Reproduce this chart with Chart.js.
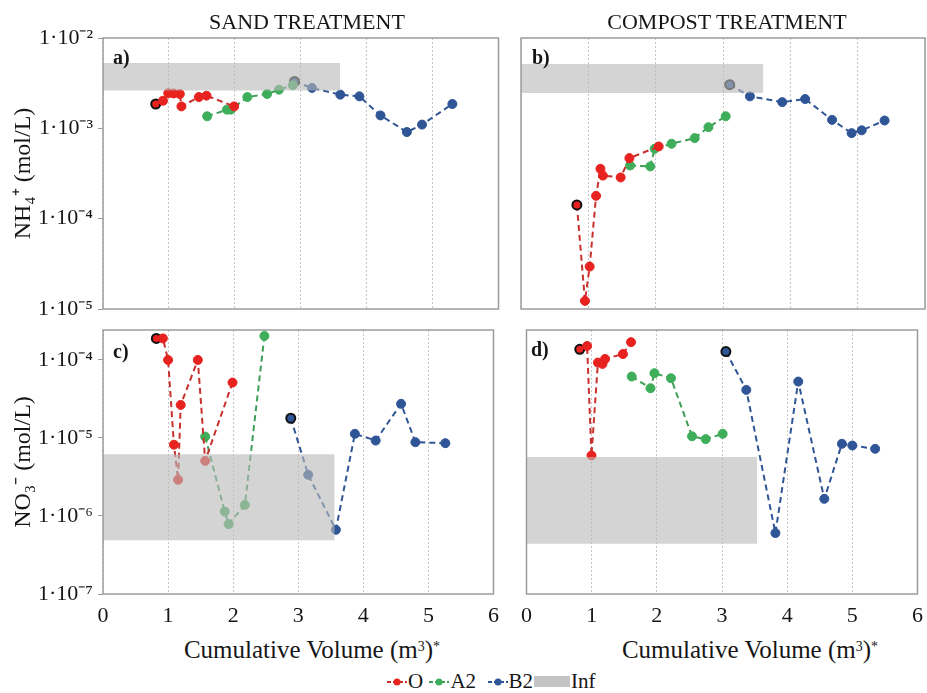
<!DOCTYPE html>
<html>
<head>
<meta charset="utf-8">
<script src="https://cdn.jsdelivr.net/npm/chart.js@4.4.0/dist/chart.umd.min.js"></script>
<style>
body{margin:0;background:#fff;width:927px;height:693px;position:relative;overflow:hidden;font-family:"Liberation Serif","Times New Roman",serif;color:#161616}
canvas{position:absolute}
.t{position:absolute;line-height:1;white-space:nowrap}
.c{text-align:center;width:400px}
.p{font-weight:bold;font-size:20px}
sup{font-size:14px;vertical-align:0.5em;line-height:0}
.leg{position:absolute;left:386px;top:671px;font-size:21px;line-height:1;display:flex;align-items:center;white-space:nowrap}
.leg svg{margin:0 1px}
</style>
</head>
<body>
<canvas id="ga" width="505" height="330" style="left:0;top:0"></canvas>
<canvas id="gb" width="420" height="330" style="left:512px;top:0"></canvas>
<canvas id="gc" width="508" height="324" style="left:0;top:310px"></canvas>
<canvas id="gd" width="420" height="324" style="left:512px;top:310px"></canvas>

<div class="t c" style="left:107px;top:11px;font-size:22px">SAND TREATMENT</div>
<div class="t c" style="left:527px;top:11px;font-size:22px">COMPOST TREATMENT</div>
<div class="t p" style="left:113px;top:47px">a)</div>
<div class="t p" style="left:532px;top:47px">b)</div>
<div class="t p" style="left:113px;top:341px">c)</div>
<div class="t p" style="left:531px;top:339px">d)</div>
<div class="t c" style="left:112px;top:637px;font-size:25px">Cumulative Volume (m<sup>3</sup>)<sup>*</sup></div>
<div class="t c" style="left:550px;top:637px;font-size:25px">Cumulative Volume (m<sup>3</sup>)<sup>*</sup></div>

<div class="leg">
  <svg width="20" height="10"><line x1="0" y1="5" x2="20" y2="5" stroke="#c8302c" stroke-width="2" stroke-dasharray="4 2"/><circle cx="10" cy="5" r="3.5" fill="#e8231f"/></svg><span>O</span>&nbsp;
  <svg width="20" height="10"><line x1="0" y1="5" x2="20" y2="5" stroke="#3e9e58" stroke-width="2" stroke-dasharray="4 2"/><circle cx="10" cy="5" r="3.5" fill="#3fae5a"/></svg><span>A2</span>&nbsp;&nbsp;
  <svg width="20" height="10"><line x1="0" y1="5" x2="20" y2="5" stroke="#2f5597" stroke-width="2" stroke-dasharray="4 2"/><circle cx="10" cy="5" r="3.5" fill="#2f5597"/></svg><span>B2</span>
  <svg width="36" height="11"><rect x="0" y="0" width="36" height="11" fill="#c4c4c4"/></svg><span>Inf</span>
</div>

<script>
// a) sand, NH4+
let aOx  = [0.80, 0.91, 0.99, 1.07, 1.165, 1.19, 1.455, 1.57, 1.99];
let aOy  = [1.86e-3, 2.02e-3, 2.45e-3, 2.43e-3, 2.4e-3, 1.75e-3, 2.22e-3, 2.3e-3, 1.75e-3];
let aA2x = [1.58, 1.88, 1.94, 2.19, 2.49, 2.67, 2.88];
let aA2y = [1.36e-3, 1.61e-3, 1.61e-3, 2.22e-3, 2.4e-3, 2.68e-3, 3.0e-3];
let aB2x = [2.906, 3.17, 3.60, 3.89, 4.21, 4.61, 4.84, 5.30];
let aB2y = [3.3e-3, 2.8e-3, 2.36e-3, 2.26e-3, 1.39e-3, 9.1e-4, 1.1e-3, 1.86e-3];

// b) compost, NH4+
let bOx  = [0.83, 0.95, 1.02, 1.115, 1.18, 1.216, 1.48, 1.61, 2.045];
let bOy  = [1.42e-4, 1.23e-5, 2.95e-5, 1.79e-4, 3.56e-4, 3.0e-4, 2.86e-4, 4.68e-4, 6.3e-4];
let bA2x = [1.62, 1.92, 1.985, 2.236, 2.58, 2.784, 3.04];
let bA2y = [3.88e-4, 3.79e-4, 5.94e-4, 6.75e-4, 7.8e-4, 1.03e-3, 1.36e-3];
let bB2x = [3.10, 3.40, 3.88, 4.22, 4.62, 4.91, 5.06, 5.40];
let bB2y = [3.04e-3, 2.26e-3, 1.95e-3, 2.11e-3, 1.24e-3, 8.85e-4, 9.5e-4, 1.22e-3];

// c) sand, NO3-
let cOx  = [0.82, 0.92, 1.0, 1.09, 1.154, 1.194, 1.457, 1.57, 1.99];
let cOy  = [1.89e-4, 1.89e-4, 1.0e-4, 8.2e-6, 2.91e-6, 2.65e-5, 1.0e-4, 5.09e-6, 5.13e-5];
let cA2x = [1.57, 1.87, 1.93, 2.18, 2.48];
let cA2y = [1.04e-5, 1.14e-6, 7.87e-7, 1.39e-6, 2.03e-4];
let cB2x = [2.885, 3.153, 3.578, 3.87, 4.19, 4.58, 4.80, 5.26];
let cB2y = [1.79e-5, 3.37e-6, 6.65e-7, 1.13e-5, 9.27e-6, 2.74e-5, 8.83e-6, 8.57e-6];

// d) compost, NO3-
let dOx  = [0.817, 0.93, 0.997, 1.096, 1.166, 1.206, 1.48, 1.604];
let dOy  = [1.37e-4, 1.51e-4, 5.96e-6, 9.25e-5, 8.9e-5, 1.03e-4, 1.19e-4, 1.69e-4];
let dA2x = [1.614, 1.903, 1.963, 2.217, 2.54, 2.75, 3.01];
let dA2y = [6.13e-5, 4.34e-5, 6.76e-5, 5.83e-5, 1.05e-5, 9.67e-6, 1.13e-5];
let dB2x = [3.06, 3.373, 3.82, 4.17, 4.57, 4.84, 5.0, 5.35];
let dB2y = [1.28e-4, 4.13e-5, 6.04e-7, 5.28e-5, 1.66e-6, 8.42e-6, 8.0e-6, 7.26e-6];

// Inf band (a, b, c, d)
let infEnd    = [3.6, 3.6, 3.56, 3.54];
let infTop    = [5.3e-3, 5.15e-3, 6.2e-6, 5.7e-6];
let infBottom = [2.62e-3, 2.46e-3, 4.9e-7, 4.4e-7];

// axes
let nhTicks = [1e-2, 1e-3, 1e-4, 1e-5];
let noTicks = [1e-4, 1e-5, 1e-6, 1e-7];
let nhRange = [1e-5, 1e-2];
let noRange = [1e-7, 2.42e-4];

const FONT = '"Liberation Serif", "Times New Roman", serif';
const INK = '#161616';
const SUP = {'-':'⁻','0':'⁰','1':'¹','2':'²','3':'³','4':'⁴','5':'⁵','6':'⁶','7':'⁷','8':'⁸','9':'⁹'};

function powLabel(v){
    var e = Math.round(Math.log10(v));
    return '1·10' + String(e).split('').map(function(c){ return SUP[c]; }).join('');
}

// ring: premier point entouré de noir (O et B2 seulement)
function serie(label, xs, ys, pt, ln, ring){
    return {
        label: label,
        data: xs.map(function(x, i){ return {x: x, y: ys[i]}; }),
        borderColor: ln,
        borderWidth: 2,
        borderDash: [6, 4],
        backgroundColor: pt,
        pointRadius: 4.5,
        pointBackgroundColor: pt,
        pointBorderColor: function(c){ return (ring && c.dataIndex === 0) ? '#111' : pt; },
        pointBorderWidth: function(c){ return (ring && c.dataIndex === 0) ? 2 : 1; },
        fill: false,
        order: 1
    };
}

// cadre gris autour de la zone de tracé
const frame = {
    id: 'frame',
    afterDraw: function(chart){
        var a = chart.chartArea, ctx = chart.ctx;
        ctx.save();
        ctx.strokeStyle = '#9c9c9c';
        ctx.lineWidth = 1.5;
        ctx.strokeRect(a.left, a.top, a.right - a.left, a.bottom - a.top);
        ctx.restore();
    }
};

function panel(id, k, O, A2, B2, range, ticks, opt){
    var ctx = document.getElementById(id).getContext('2d');
    return new Chart(ctx, {
        type: 'line',
        data: {
            datasets: [
                serie('O',  O[0],  O[1],  '#e8231f', '#c8302c', true),
                serie('A2', A2[0], A2[1], '#3fae5a', '#3e9e58', false),
                serie('B2', B2[0], B2[1], '#2f5597', '#2f5597', true),
                {
                    label: 'Inf',
                    data: [{x: 0, y: infTop[k]}, {x: infEnd[k], y: infTop[k]}],
                    borderWidth: 0,
                    pointRadius: 0,
                    backgroundColor: 'rgba(185,185,185,0.62)',
                    fill: {value: infBottom[k]},
                    order: 0
                }
            ]
        },
        options: {
            responsive: false,
            animation: false,
            events: [],
            layout: {padding: opt.pad},
            plugins: {legend: {display: false}, tooltip: {enabled: false}},
            scales: {
                x: {
                    type: 'linear', min: 0, max: 6,
                    afterFit: function(s){ s.height = opt.xh; },
                    ticks: {stepSize: 1, display: opt.xlab, padding: 9, color: INK, font: {family: FONT, size: 22}},
                    grid: {color: '#c6c6c6', lineWidth: 1, drawTicks: false},
                    border: {display: false, dash: [2, 2]}
                },
                y: {
                    type: 'logarithmic', min: range[0], max: range[1],
                    afterBuildTicks: function(s){ s.ticks = ticks.map(function(v){ return {value: v}; }); },
                    afterFit: function(s){ s.width = opt.yw; },
                    ticks: {display: opt.ylab, padding: 5, color: INK, font: {family: FONT, size: 22},
                            callback: function(v){ return powLabel(v); }},
                    grid: {drawOnChartArea: false, drawTicks: opt.ylab, tickLength: 5, color: '#9c9c9c'},
                    border: {display: false},
                    title: {display: opt.ylab, text: opt.ytitle, color: INK,
                            font: {family: FONT, size: 24}, padding: {top: 9, bottom: 0}}
                }
            }
        },
        plugins: [frame]
    });
}

panel('ga', 0, [aOx, aOy], [aA2x, aA2y], [aB2x, aB2y], nhRange, nhTicks,
      {pad: {top: 38, right: 5, bottom: 0, left: 0}, xh: 21, yw: 103, xlab: false, ylab: true, ytitle: 'NH₄⁺ (mol/L)'});
panel('gb', 1, [bOx, bOy], [bA2x, bA2y], [bB2x, bB2y], nhRange, nhTicks,
      {pad: {top: 38, right: 7, bottom: 0, left: 0}, xh: 21, yw: 9, xlab: false, ylab: false});
panel('gc', 2, [cOx, cOy], [cA2x, cA2y], [cB2x, cB2y], noRange, noTicks,
      {pad: {top: 20, right: 8, bottom: 0, left: 0}, xh: 40, yw: 103, xlab: true, ylab: true, ytitle: 'NO₃⁻ (mol/L)'});
panel('gd', 3, [dOx, dOy], [dA2x, dA2y], [dB2x, dB2y], noRange, noTicks,
      {pad: {top: 20, right: 7, bottom: 0, left: 0}, xh: 40, yw: 9, xlab: true, ylab: false});
</script>
</body>
</html>
